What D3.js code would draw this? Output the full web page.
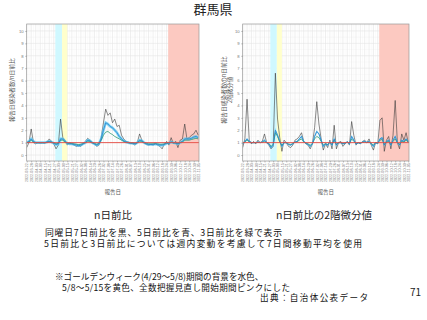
<!DOCTYPE html>
<html>
<head>
<meta charset="utf-8">
<script src="https://cdn.jsdelivr.net/npm/d3@7"></script>
<style>
  body { margin: 0; background: #fff; }
  svg { display: block; font-family: "Noto Sans CJK JP", "Noto Sans", sans-serif; }
</style>
</head>
<body>
<svg id="chart"></svg>
<script>
const SIZE = { width: 427, height: 320 };

// one value every 3 days, starting 2022-03-22
const START_DAY = "2022-03-22";
const END_DAY = "2022-11-06";
const STEP_DAYS = 3;
const TICK_DAYS = 6;

const ratioBlack = [0.6, 1.0, 2.1, 1.0, 0.9, 1.0, 0.95, 1.0, 0.95, 1.05, 1.3, 1.1, 0.9, 0.5, 0.8, 2.9, 1.4, 1.2, 0.8, 1.0,
  0.9, 0.8, 0.7, 0.75, 0.7, 0.9, 1.1, 1.35, 1.2, 1.0, 0.9, 0.7, 0.8, 1.4, 2.6, 3.7, 3.2, 3.4, 2.6, 2.9,
  2.3, 2.4, 1.6, 1.3, 1.1, 1.05, 0.95, 0.9, 0.8, 1.0, 1.7, 1.2, 1.0, 0.85, 0.8, 0.85, 0.8, 0.9, 0.8, 0.7,
  0.5, 0.9, 1.1, 0.8, 1.4, 0.9, 1.1, 0.6, 1.2, 1.3, 2.5, 1.3, 1.4, 1.6, 1.7, 2.0, 1.6];
const ratioBlue = [1.0, 1.1, 1.3, 1.1, 1.0, 1.0, 1.0, 1.0, 1.0, 1.05, 1.1, 1.05, 0.95, 0.85, 0.9, 1.3, 1.3, 1.1, 0.95, 0.9,
  0.9, 0.85, 0.8, 0.75, 0.8, 0.9, 1.0, 1.2, 1.15, 1.0, 0.9, 0.8, 0.9, 1.3, 2.0, 2.6, 2.5, 2.3, 2.2, 2.0,
  1.8, 1.5, 1.3, 1.15, 1.05, 1.0, 0.95, 0.95, 0.9, 1.0, 1.2, 1.15, 1.0, 0.9, 0.85, 0.85, 0.85, 0.9, 0.85, 0.8,
  0.8, 0.85, 0.95, 0.95, 1.05, 1.0, 0.95, 0.9, 1.0, 1.1, 1.3, 1.3, 1.3, 1.35, 1.45, 1.5, 1.4];
const ratioGreen = [1.0, 1.05, 1.2, 1.05, 1.0, 1.0, 1.0, 1.0, 1.0, 1.03, 1.08, 1.03, 0.97, 0.9, 0.95, 1.2, 1.2, 1.05, 0.97, 0.93,
  0.93, 0.9, 0.87, 0.85, 0.87, 0.93, 1.0, 1.12, 1.1, 1.0, 0.93, 0.87, 0.93, 1.2, 1.6, 1.85, 1.9, 1.75, 1.65, 1.5,
  1.4, 1.3, 1.2, 1.1, 1.03, 1.0, 0.97, 0.97, 0.93, 1.0, 1.12, 1.1, 1.0, 0.93, 0.9, 0.9, 0.9, 0.93, 0.9, 0.87,
  0.87, 0.9, 0.97, 0.97, 1.03, 1.0, 0.97, 0.93, 1.0, 1.07, 1.2, 1.2, 1.2, 1.25, 1.3, 1.35, 1.3];

const diffBlack = [0.6, 1.3, 4.5, 1.2, 0.9, 1.1, 0.9, 1.2, 1.0, 1.1, 1.7, 1.0, 0.8, 0.5, 0.7, 6.6, 2.9, 1.4, 0.3, 1.2,
  1.0, 0.7, 0.6, 0.8, 1.2, 1.3, 1.5, 1.8, 1.1, 0.9, 0.8, 0.5, 0.9, 2.2, 4.3, 2.5, 1.3, 0.4, 0.9, 0.6,
  1.2, 0.5, 2.4, 0.5, 1.0, 1.1, 0.7, 0.9, 1.1, 0.8, 2.7, 1.6, 0.8, 1.0, 0.9, 1.1, 1.2, 1.0, 1.3, 0.8,
  0.4, 1.0, 0.9, 2.8, 3.0, 0.3, 1.2, 1.5, 0.5, 1.6, 4.4, 1.0, 0.5, 1.7, 1.2, 1.8, 1.0];
const diffBlue = [0.9, 1.1, 1.3, 1.1, 1.0, 1.0, 1.0, 1.05, 1.0, 1.05, 1.2, 1.0, 0.9, 0.6, 0.8, 2.0, 1.6, 1.1, 0.7, 1.0,
  1.0, 0.85, 0.8, 0.9, 1.05, 1.1, 1.3, 1.5, 1.1, 0.95, 0.85, 0.7, 0.9, 1.5, 1.9, 1.7, 1.2, 0.7, 0.9, 0.8,
  1.05, 0.8, 1.3, 0.8, 1.0, 1.0, 0.9, 0.95, 1.05, 0.9, 1.5, 1.2, 0.9, 1.0, 0.95, 1.05, 1.1, 1.0, 1.1, 0.9,
  0.7, 1.0, 0.95, 1.3, 1.4, 0.8, 1.1, 1.2, 0.8, 1.2, 1.5, 1.0, 0.8, 1.2, 1.1, 1.3, 1.1];
const diffGreen = [0.95, 1.05, 1.2, 1.05, 1.0, 1.0, 1.0, 1.03, 1.0, 1.03, 1.1, 1.0, 0.95, 0.7, 0.85, 1.8, 1.5, 1.05, 0.8, 1.0,
  1.0, 0.9, 0.85, 0.92, 1.03, 1.07, 1.2, 1.3, 1.05, 0.97, 0.9, 0.8, 0.93, 1.3, 1.5, 1.4, 1.1, 0.8, 0.93, 0.85,
  1.03, 0.85, 1.2, 0.85, 1.0, 1.0, 0.93, 0.97, 1.03, 0.93, 1.3, 1.1, 0.93, 1.0, 0.97, 1.03, 1.05, 1.0, 1.05, 0.93,
  0.8, 1.0, 0.97, 1.2, 1.25, 0.85, 1.05, 1.1, 0.85, 1.1, 1.3, 1.0, 0.85, 1.1, 1.05, 1.2, 1.05];

const bands = [
  { from: "2022-04-29", to: "2022-05-08", fill: "#cff8ff" },
  { from: "2022-05-08", to: "2022-05-15", fill: "#ffffcc" },
  { from: "2022-09-26", to: "2022-11-06", fill: "#fcc9c1" },
];
const yTicks = [0, 1, 2, 3, 4, 5, 6, 7, 8, 9, 10];

const notes = [
  { text: "同曜日7日前比を黒、5日前比を青、3日前比を緑で表示", x: 45, y: 235.6, w: 237, size: 8.8 },
  { text: "5日前比と3日前比については週内変動を考慮して7日間移動平均を使用", x: 44, y: 247.4, w: 318, size: 8.8 },
  { text: "※ゴールデンウィーク(4/29～5/8)期間の背景を水色、", x: 55, y: 280.2, w: null, size: 8.6 },
  { text: "5/8～5/15を黄色、全数把握見直し開始期間ピンクにした", x: 62, y: 291, w: 228, size: 8.6 },
  { text: "出典：自治体公表データ", x: 260, y: 301, w: 108, size: 8.6 },
];

const parseDay = d3.timeParse("%Y-%m-%d");
const startDate = parseDay(START_DAY);
const endDate = parseDay(END_DAY);
const toRows = vals => vals.map((v, i) => ({ date: d3.timeDay.offset(startDate, i * STEP_DAYS), v: v }));

const body = d3.select("svg#chart").attr("width", SIZE.width).attr("height", SIZE.height);
body.append("rect").attr("width", SIZE.width).attr("height", SIZE.height).attr("fill", "#fff");

body.append("text").attr("x", 213).attr("y", 13.5).attr("text-anchor", "middle")
  .attr("font-size", 13).attr("fill", "#222").text("群馬県");

function drawPanel(cfg){
  const xScale = d3.scaleTime().domain([startDate, endDate]).range([cfg.left, cfg.right]);
  const yScale = d3.scaleLinear().domain([-0.48, 10.56]).range([cfg.bottom, cfg.top]);
  const g = body.append("g");
  const ticks = d3.timeDay.range(startDate, d3.timeDay.offset(endDate, 1), TICK_DAYS);
  const minor = d3.timeDay.range(d3.timeDay.offset(startDate, TICK_DAYS / 2), endDate, TICK_DAYS);

  // grid
  g.selectAll(".ymin").data(d3.range(-0.5, 10.6, 1)).enter().append("line")
    .attr("x1", cfg.left).attr("x2", cfg.right)
    .attr("y1", d => yScale(d)).attr("y2", d => yScale(d))
    .attr("stroke", "#f2f2f2").attr("stroke-width", 0.4);
  g.selectAll(".xmin").data(minor).enter().append("line")
    .attr("x1", d => xScale(d)).attr("x2", d => xScale(d))
    .attr("y1", cfg.top).attr("y2", cfg.bottom)
    .attr("stroke", "#f2f2f2").attr("stroke-width", 0.4);
  g.selectAll(".ymaj").data(yTicks).enter().append("line")
    .attr("x1", cfg.left).attr("x2", cfg.right)
    .attr("y1", d => yScale(d)).attr("y2", d => yScale(d))
    .attr("stroke", "#e4e4e4").attr("stroke-width", 0.6);
  g.selectAll(".xmaj").data(ticks).enter().append("line")
    .attr("x1", d => xScale(d)).attr("x2", d => xScale(d))
    .attr("y1", cfg.top).attr("y2", cfg.bottom)
    .attr("stroke", "#e4e4e4").attr("stroke-width", 0.6);

  // background periods, drawn over the grid like the original
  g.selectAll(".band").data(bands).enter().append("rect")
    .attr("x", d => xScale(parseDay(d.from)))
    .attr("width", d => xScale(parseDay(d.to)) - xScale(parseDay(d.from)))
    .attr("y", cfg.top).attr("height", cfg.bottom - cfg.top)
    .attr("fill", d => d.fill);

  const line = d3.line().x(d => xScale(d.date)).y(d => yScale(d.v));
  const clipId = "clip" + Math.round(cfg.left);
  body.append("clipPath").attr("id", clipId).append("rect")
    .attr("x", cfg.left).attr("y", cfg.top)
    .attr("width", cfg.right - cfg.left).attr("height", cfg.bottom - cfg.top);
  const lines = g.append("g").attr("clip-path", `url(#${clipId})`);
  lines.append("path").attr("d", line(toRows(cfg.black)))
    .attr("fill", "none").attr("stroke", "#3a3a3a").attr("stroke-width", 0.6);
  lines.append("path").attr("d", line(toRows(cfg.blue)))
    .attr("fill", "none").attr("stroke", "#55c6f0").attr("stroke-width", cfg.halo).attr("opacity", 0.75);
  lines.append("path").attr("d", line(toRows(cfg.green)))
    .attr("fill", "none").attr("stroke", "#2e9c72").attr("stroke-width", 0.8);
  lines.append("path").attr("d", line(toRows(cfg.blue)))
    .attr("fill", "none").attr("stroke", "#2a84cf").attr("stroke-width", 0.8);
  lines.append("line")
    .attr("x1", cfg.left).attr("x2", cfg.right)
    .attr("y1", yScale(1)).attr("y2", yScale(1))
    .attr("stroke", "#e5483e").attr("stroke-width", 0.9);

  g.append("rect").attr("x", cfg.left).attr("y", cfg.top)
    .attr("width", cfg.right - cfg.left).attr("height", cfg.bottom - cfg.top)
    .attr("fill", "none").attr("stroke", "#999").attr("stroke-width", 0.7);

  // axes
  const yAxis = d3.axisLeft(yScale).tickValues(yTicks).tickSize(1.5).tickPadding(1.5);
  const yG = g.append("g").attr("transform", `translate(${cfg.left},0)`).call(yAxis);
  yG.select(".domain").remove();
  yG.selectAll("line").attr("stroke", "#666").attr("stroke-width", 0.4);
  yG.selectAll("text").attr("font-size", 4.2).attr("fill", "#777");

  const xAxis = d3.axisBottom(xScale).tickValues(ticks).tickFormat(d3.timeFormat("%Y-%m-%d"))
    .tickSize(1.5).tickPadding(1);
  const xG = g.append("g").attr("transform", `translate(0,${cfg.bottom})`).call(xAxis);
  xG.select(".domain").remove();
  xG.selectAll("line").attr("stroke", "#666").attr("stroke-width", 0.4);
  xG.selectAll("text").attr("font-size", 3.7).attr("fill", "#777")
    .attr("transform", "rotate(-90)").attr("text-anchor", "end")
    .attr("x", -2.2).attr("y", 0).attr("dy", "0.35em");

  g.append("text").attr("x", (cfg.left + cfg.right) / 2).attr("y", 193.5)
    .attr("text-anchor", "middle").attr("font-size", 5.5).attr("fill", "#555").text("報告日");

  cfg.yTitle.forEach((t, i) => {
    g.append("text").attr("transform", `translate(${cfg.yTitleX + i * 5.5},90) rotate(-90)`)
      .attr("text-anchor", "middle").attr("font-size", 5.8).attr("fill", "#555").text(t);
  });

  body.append("text").attr("x", cfg.subX).attr("y", 218.5).attr("text-anchor", "middle")
    .attr("font-size", 10.5).attr("fill", "#222").text(cfg.sub);
}

drawPanel({
  left: 26.7, right: 199, top: 24, bottom: 161,
  black: ratioBlack, blue: ratioBlue, green: ratioGreen, halo: 2.6,
  yTitle: ["報告日感染者数/n日前比"], yTitleX: 14,
  sub: "n日前比", subX: 113,
});
drawPanel({
  left: 242.7, right: 409, top: 24, bottom: 161,
  black: diffBlack, blue: diffBlue, green: diffGreen, halo: 1.2,
  yTitle: ["報告日感染者数のn日前比", "2階微分値"], yTitleX: 226,
  sub: "n日前比の2階微分値", subX: 324,
});

body.selectAll(".note").data(notes).enter().append("text")
  .attr("x", d => d.x).attr("y", d => d.y)
  .attr("textLength", d => d.w).attr("lengthAdjust", d => d.w ? "spacing" : null)
  .attr("font-size", d => d.size).attr("fill", "#111").text(d => d.text);

body.append("text").attr("x", 410).attr("y", 296).attr("font-size", 10).attr("fill", "#222").text("71");
</script>
</body>
</html>
